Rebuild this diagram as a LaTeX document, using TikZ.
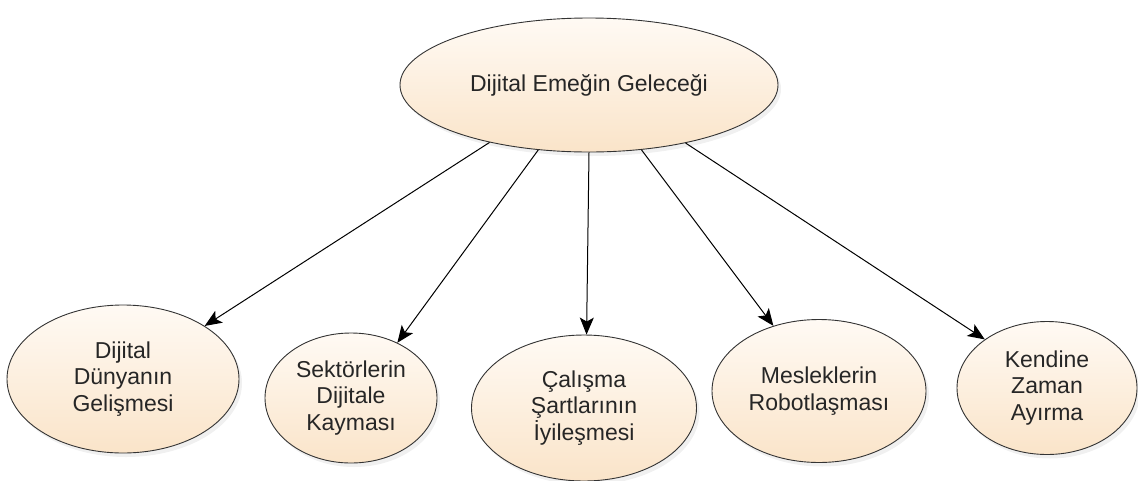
\documentclass[tikz,border=0pt]{standalone}
\usepackage{fontspec}
\setmainfont{Liberation Sans}
\usepackage{tikz}
\usetikzlibrary{shapes.geometric,arrows.meta,shadows}
\definecolor{peach}{RGB}{250,228,201}
\definecolor{peachlight}{RGB}{255,250,244}

\begin{document}
\begin{tikzpicture}[x=1pt,y=-1pt,
    konu/.style={ellipse,draw=black!80,line width=0.9pt,top color=peachlight,bottom color=peach,
      inner sep=0pt,align=center,text=black!85,font=\fontsize{23}{26.5}\selectfont,
      drop shadow={opacity=0.12,shadow xshift=3pt,shadow yshift=-4pt}},
    ok/.style={-{Stealth[length=17pt,width=14pt,inset=4pt]},line width=1pt,black}]
      \useasboundingbox (0,0) rectangle (1138,480);
      \node [konu,minimum width=378,minimum height=134] (gelecek) at (589,85) {Dijital Emeğin Geleceği};
      \node [konu,minimum width=232,minimum height=148] (dunya) at (123,379) {Dijital\\Dünyanın\\Gelişmesi};
      \node [konu,minimum width=172,minimum height=130] (sektor) at (351,398) {Sektörlerin\\Dijitale\\Kayması};
      \node [konu,minimum width=225,minimum height=146] (calisma) at (584,408) {Çalışma\\Şartlarının\\İyileşmesi};
      \node [konu,minimum width=214,minimum height=143] (meslek) at (819,391) {Mesleklerin\\Robotlaşması};
      \node [konu,minimum width=180,minimum height=133] (zaman) at (1047,388) {Kendine\\Zaman\\Ayırma};
      \draw [ok] (gelecek.210) -- (dunya.33);
      \draw [ok] (gelecek.232) -- (sektor.50);
      \draw [ok] (gelecek.270) -- (calisma.88);
      \draw [ok] (gelecek.309) -- (meslek.125);
      \draw [ok] (gelecek.329) -- (zaman.142);
    \end{tikzpicture}
\end{document}
